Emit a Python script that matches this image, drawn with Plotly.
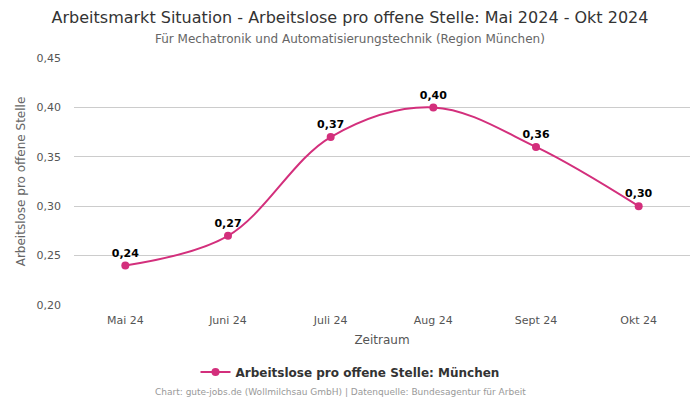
import plotly.graph_objects as go

categories = ["Mai 24", "Juni 24", "Juli 24", "Aug 24", "Sept 24", "Okt 24"]
values = [0.24, 0.27, 0.37, 0.40, 0.36, 0.30]
labels = ["0,24", "0,27", "0,37", "0,40", "0,36", "0,30"]
tick_vals = [0.20, 0.25, 0.30, 0.35, 0.40, 0.45]
tick_text = ["0,20", "0,25", "0,30", "0,35", "0,40", "0,45"]

color = "#d32f7c"
font = "DejaVu Sans"

fig = go.Figure()
fig.add_trace(go.Scatter(
    x=categories, y=values, mode="lines+markers+text",
    line=dict(color=color, width=2, shape="spline", smoothing=1),
    marker=dict(color=color, size=8),
    text=labels, textposition="top center",
    textfont=dict(family=font, size=11, color="#000000", weight="bold"),
    name="Arbeitslose pro offene Stelle: München",
    cliponaxis=False,
))

fig.update_layout(
    width=700, height=400,
    margin=dict(l=74, r=10, t=58, b=95, autoexpand=False),
    paper_bgcolor="white", plot_bgcolor="white",
    font=dict(family=font, color="#555555"),
    title=dict(text="Arbeitsmarkt Situation - Arbeitslose pro offene Stelle: Mai 2024 - Okt 2024",
               x=0.5, xanchor="center", y=1 - 17 / 400, yanchor="middle",
               font=dict(family=font, size=16, color="#333333")),
    showlegend=True,
    legend=dict(orientation="h", xref="container", x=0.5, xanchor="center", yref="container", y=1 - 372 / 400, yanchor="middle",
                font=dict(family=font, size=12, color="#333333", weight="bold")),
    annotations=[
        dict(text="Für Mechatronik und Automatisierungstechnik (Region München)",
             x=(350 - 74) / 616, xref="paper", y=1 + (58 - 39) / 247, yref="paper", yanchor="middle", showarrow=False,
             font=dict(family=font, size=12, color="#666666")),
        dict(text="Chart: gute-jobs.de (Wollmilchsau GmbH) | Datenquelle: Bundesagentur für Arbeit",
             x=(340 - 74) / 616, xref="paper", y=-(392 - 305) / 247, yref="paper", yanchor="middle", showarrow=False,
             font=dict(family=font, size=9, color="#999999")),
    ],
)

fig.update_xaxes(
    title=dict(text="Zeitraum", font=dict(family=font, size=12, color="#555555"), standoff=9),
    range=[-0.5, len(categories) - 0.5], ticklabelstandoff=7,
    tickfont=dict(family=font, size=11, color="#555555"),
    showgrid=False, showline=False, ticks="", zeroline=False, automargin=False,
)
fig.update_yaxes(
    title=dict(text="Arbeitslose pro offene Stelle", font=dict(family=font, size=12, color="#666666"), standoff=8),
    range=[0.20, 0.45], tickvals=tick_vals, ticktext=tick_text, ticklabelstandoff=12,
    tickfont=dict(family=font, size=11, color="#555555"),
    showgrid=True, gridcolor="#cccccc", gridwidth=1, zeroline=False, showline=False, automargin=False,
)

fig.write_html("out.html", config={"displayModeBar": False},
               post_script="document.body.style.margin='0';")
